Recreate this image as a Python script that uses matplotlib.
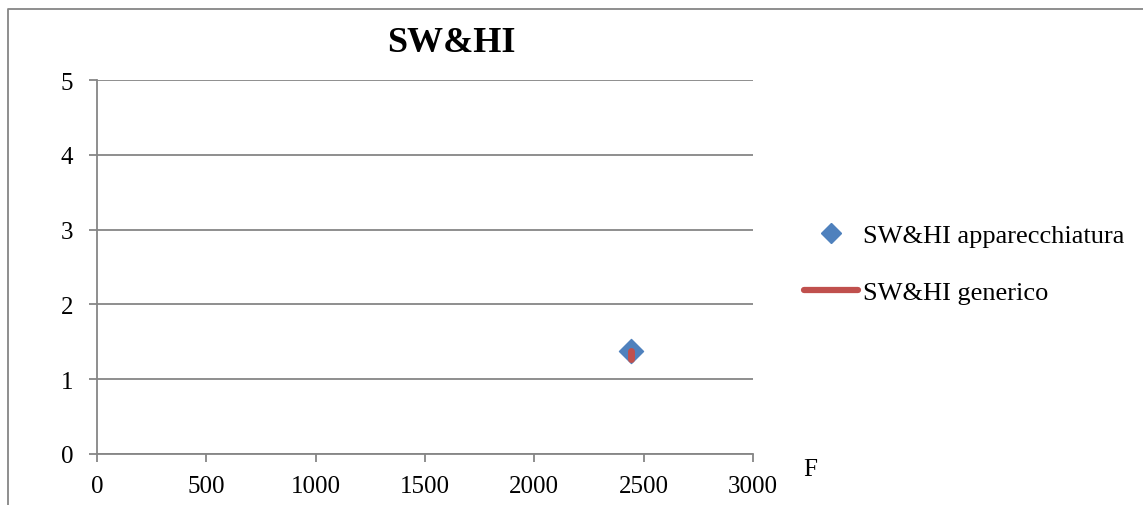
import matplotlib.pyplot as plt
from matplotlib.lines import Line2D

plt.rcParams['font.family'] = ['Liberation Serif', 'DejaVu Serif']

# data
app_x = [2442]
app_y = [1.38]
gen_x = [2442, 2442]
gen_y = [1.38, 1.27]
x_ticks = [0, 500, 1000, 1500, 2000, 2500, 3000]
y_ticks = [0, 1, 2, 3, 4, 5]

W, H = 1143, 506
fig = plt.figure(figsize=(W / 100, H / 100), dpi=100)
ax = fig.add_axes([97 / W, 1 - 455 / H, (753 - 97) / W, (455 - 81) / H])

ax.plot(gen_x, gen_y, color='#C0504D', lw=5, solid_capstyle='round',
        label='SW&HI generico', zorder=4)
ax.scatter(app_x, app_y, marker='D', s=150, color='#4F81BD',
           label='SW&HI apparecchiatura', zorder=3)

ax.set_xlim(0, 3000)
ax.set_ylim(0, 5)
ax.set_xticks(x_ticks)
ax.set_yticks(y_ticks)
ax.grid(axis='y', color='#868686', lw=1.3)
ax.set_axisbelow(True)
for s in ['top', 'right']:
    ax.spines[s].set_visible(False)
for s in ['left', 'bottom']:
    ax.spines[s].set_color('#868686')
    ax.spines[s].set_linewidth(1.3)
ax.tick_params(length=6, width=1.3, color='#868686', labelsize=18)
ax.tick_params(axis='x', pad=9)
ax.tick_params(axis='y', pad=11)

fig.text(451 / W, 1 - 44 / H, 'SW&HI', fontsize=26, fontweight='bold',
         ha='center', va='center')
fig.text(810 / W, 1 - 470 / H, 'F', fontsize=18, ha='center', va='center')

handles = [Line2D([], [], marker='D', ls='none', color='#4F81BD', ms=10),
           Line2D([], [], color='#C0504D', lw=4.5, solid_capstyle='round')]
fig.legend(handles, ['SW&HI apparecchiatura', 'SW&HI generico'],
           loc='center left', bbox_to_anchor=(804 / W, 1 - 265 / H),
           frameon=False, fontsize=19, handlelength=2.05, handletextpad=0.2,
           labelspacing=1.27, borderpad=0, borderaxespad=0)

# chart area border (top and left visible)
fig.add_artist(Line2D([8 / W, 8 / W, 1], [0, 1 - 10 / H, 1 - 10 / H],
                      color='#868686', lw=1.3, transform=fig.transFigure))

fig.savefig('out.png', dpi=100)
